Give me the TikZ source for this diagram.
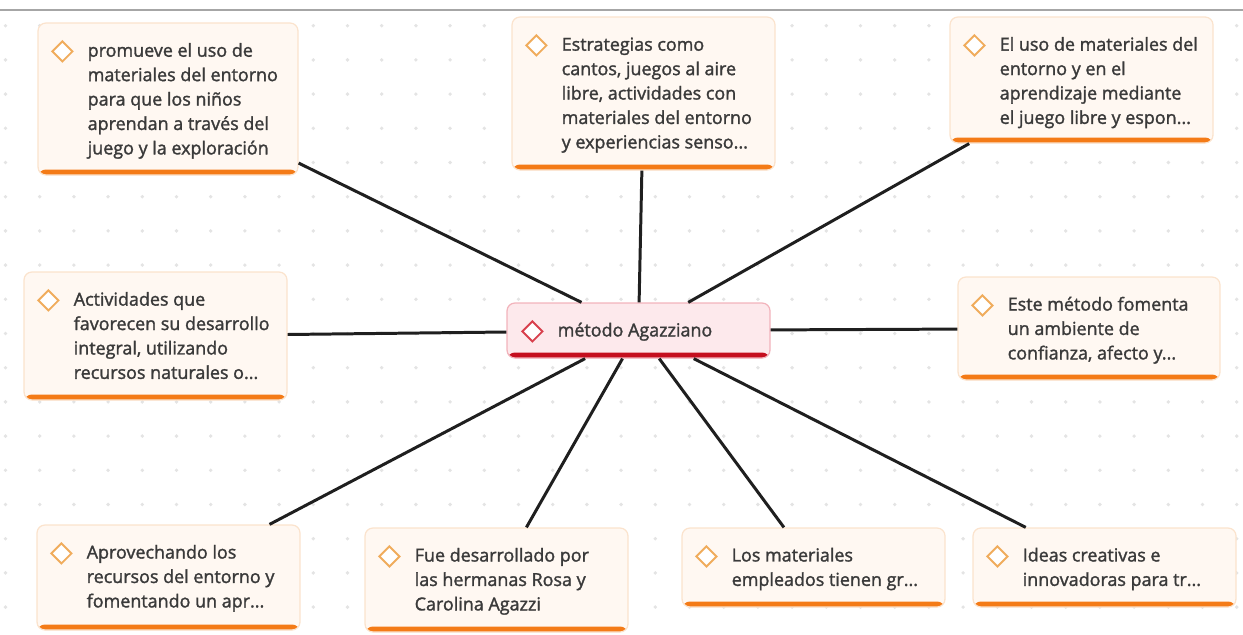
\documentclass[tikz,border=0pt]{standalone}
\usepackage{fontspec}
\setmainfont{Open Sans}
\newfontfamily\topicfont{Open Sans}[FakeBold=1.6]
\usetikzlibrary{shapes.geometric}
\definecolor{boxfill}{HTML}{FFF8F2}
\definecolor{boxline}{HTML}{FBE3CD}
\definecolor{barorange}{HTML}{F47B17}
\definecolor{tagorange}{HTML}{F0AC5C}
\definecolor{mainfill}{HTML}{FDE9EC}
\definecolor{mainline}{HTML}{F2B3BB}
\definecolor{barred}{HTML}{C50F1F}
\definecolor{tagred}{HTML}{D8404D}
\definecolor{textgray}{HTML}{3A3A3A}
\definecolor{dotgray}{HTML}{E4E4E4}
\def\u{0.02cm}
\tikzset{
  topic/.style={draw=boxline, fill=boxfill, rounded corners=4.5pt, line width=0.7pt,
    minimum width=263*\u, inner sep=0pt,
    path picture={\fill[barorange] ([yshift=0.11cm]path picture bounding box.south west) rectangle (path picture bounding box.south east);}},
  maintopic/.style={topic, draw=mainline, fill=mainfill,
    path picture={\fill[barred] ([yshift=0.11cm]path picture bounding box.south west) rectangle (path picture bounding box.south east);}},
  tag/.style={shape=diamond, draw=tagorange, fill=white, line width=1.1pt, minimum size=21*\u, inner sep=0pt},
  maintag/.style={tag, draw=tagred},
  words/.style={anchor=base west, align=left, inner sep=0pt, text=textgray,
    font=\topicfont\fontsize{10.2}{13.9}\selectfont},
  link/.style={draw=black!88, line width=1.7pt}
}
\begin{document}
\begin{tikzpicture}[x=\u, y=-\u]
  \useasboundingbox (0,0) rectangle (1243,635);
  % dotted canvas
  \foreach \i in {0,...,36}
    \foreach \j in {0,...,17}
      \fill[dotgray] (5.5+\i*34.2, 25.7+\j*34.2) circle (1.1pt);
  \draw[black!35, line width=0.6pt] (0,10) -- (1243,10);

  % central topic
  \node[maintopic, minimum height=55*\u] (mc) at (638.5,330.5) {};
  \node[maintag] (mctag) at ([shift={(26,29)}]mc.north west) {};
  \node[words] (mctext) at ([shift={(51,34)}]mc.north west) {método Agazziano};

  % subtopics (text anchored at the baseline of its last line)
  \node[topic, minimum width=260*\u, minimum height=152*\u] (b1) at (168,99) {};
  \node[tag] (b1tag) at ([shift={(25,29)}]b1.north west) {};
  \node[words] (b1text) at ([shift={(50,132)}]b1.north west)
    {promueve el uso de\\materiales del entorno\\para que los niños\\aprendan a través del\\juego y la exploración};

  \node[topic, minimum height=153*\u] (b2) at (643.5,93.5) {};
  \node[tag] (b2tag) at ([shift={(25,29)}]b2.north west) {};
  \node[words] (b2text) at ([shift={(50,132)}]b2.north west)
    {Estrategias como\\cantos, juegos al aire\\libre, actividades con\\materiales del entorno\\y experiencias senso...};

  \node[topic, minimum height=126*\u] (b3) at (1081.5,80) {};
  \node[tag] (b3tag) at ([shift={(25,29)}]b3.north west) {};
  \node[words] (b3text) at ([shift={(50,107.5)}]b3.north west)
    {El uso de materiales del\\entorno y en el\\aprendizaje mediante\\el juego libre y espon...};

  \node[topic, minimum height=128*\u] (b4) at (155.5,336) {};
  \node[tag] (b4tag) at ([shift={(25,29)}]b4.north west) {};
  \node[words] (b4text) at ([shift={(50,107.5)}]b4.north west)
    {Actividades que\\favorecen su desarrollo\\integral, utilizando\\recursos naturales o...};

  \node[topic, minimum width=262*\u, minimum height=103*\u] (b5) at (1089,328.5) {};
  \node[tag] (b5tag) at ([shift={(25,29)}]b5.north west) {};
  \node[words] (b5text) at ([shift={(50,83)}]b5.north west)
    {Este método fomenta\\un ambiente de\\confianza, afecto y...};

  \node[topic, minimum height=105*\u] (b6) at (168.5,577.5) {};
  \node[tag] (b6tag) at ([shift={(25,29)}]b6.north west) {};
  \node[words] (b6text) at ([shift={(50,83)}]b6.north west)
    {Aprovechando los\\recursos del entorno y\\fomentando un apr...};

  \node[topic, minimum height=104*\u] (b7) at (496.5,580) {};
  \node[tag] (b7tag) at ([shift={(25,29)}]b7.north west) {};
  \node[words] (b7text) at ([shift={(50,83)}]b7.north west)
    {Fue desarrollado por\\las hermanas Rosa y\\Carolina Agazzi};

  \node[topic, minimum height=79*\u] (b8) at (813.5,567.5) {};
  \node[tag] (b8tag) at ([shift={(25,29)}]b8.north west) {};
  \node[words] (b8text) at ([shift={(50,58.5)}]b8.north west)
    {Los materiales\\empleados tienen gr...};

  \node[topic, minimum height=79*\u] (b9) at (1104.5,567.5) {};
  \node[tag] (b9tag) at ([shift={(25,29)}]b9.north west) {};
  \node[words] (b9text) at ([shift={(50,58.5)}]b9.north west)
    {Ideas creativas e\\innovadoras para tr...};

  % connectors
  \foreach \b in {b1,b2,b3,b4,b5,b6,b7,b8,b9}
    \draw[link] (mc) -- (\b);
\end{tikzpicture}
\end{document}
